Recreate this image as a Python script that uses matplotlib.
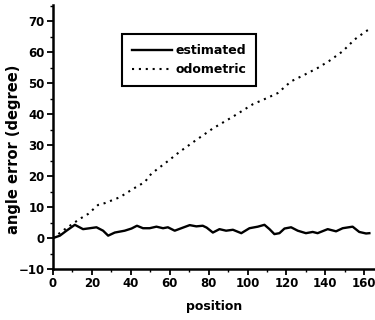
import matplotlib
matplotlib.use("Agg")
import matplotlib.pyplot as plt
from matplotlib.ticker import MultipleLocator

# estimated angle error
est_x = [0, 3.6, 7, 11.3, 15.5, 19, 22.4, 25.8, 28.4, 31.8, 36.9, 40.4, 43.2,
         46.3, 49.7, 53.2, 56.6, 59.1, 62.6, 66, 70.3, 73.7, 77, 79, 82.2, 85.6,
         89, 92.5, 96.8, 101, 105.3, 108.7, 111.3, 113.8, 116.4, 119, 122.4,
         125.8, 130, 133.5, 136, 141.2, 145.5, 148.9, 154, 157.4, 160.9, 162.6]
est_y = [0, 0.8, 2.4, 4.3, 2.9, 3.2, 3.5, 2.4, 0.8, 1.8, 2.4, 3.1, 4.0,
         3.2, 3.2, 3.7, 3.2, 3.5, 2.4, 3.2, 4.2, 3.8, 4.0, 3.4, 1.8, 2.9,
         2.4, 2.7, 1.6, 3.2, 3.7, 4.3, 2.9, 1.3, 1.6, 3.1, 3.5,
         2.4, 1.6, 2.0, 1.6, 2.9, 2.2, 3.2, 3.7, 2.0, 1.5, 1.6]

# odometric angle error
odo_x = [0, 6, 13.8, 18.1, 23.2, 26.7, 34.4, 41.2, 47.2, 50.6, 60, 65, 72.8,
         82.2, 92.5, 102.7, 109.6, 115.5, 122.4, 129.2, 136, 142, 148.9, 155,
         160.9, 163]
odo_y = [0, 2.8, 6.2, 7.8, 10.7, 11.3, 13.2, 15.9, 18.1, 20.8, 25.3, 27.8, 31.3,
         35.4, 39.2, 43.2, 45.1, 46.8, 50.6, 52.7, 54.9, 57.2, 60.3, 64.1,
         66.8, 67.5]

plt.rcParams["font.family"] = ["DejaVu Sans"]
plt.rcParams["font.weight"] = "bold"

fig = plt.figure(figsize=(3.75, 3.2), dpi=100)
ax = fig.add_axes([0.141, 0.159, 0.859, 0.825])

ax.plot(est_x, est_y, color="black", lw=1.7, label="estimated")
ax.plot(odo_x, odo_y, color="black", lw=1.5, linestyle=(0, (1, 2.3)),
        label="odometric")

ax.set_xlim(0, 165.5)
ax.set_ylim(-10, 75.2)
ax.xaxis.set_major_locator(MultipleLocator(20))
ax.xaxis.set_minor_locator(MultipleLocator(10))
ax.yaxis.set_major_locator(MultipleLocator(10))
ax.yaxis.set_minor_locator(MultipleLocator(5))

for side in ["top", "right"]:
    ax.spines[side].set_visible(False)
for side in ["left", "bottom"]:
    ax.spines[side].set_linewidth(1.8)

ax.tick_params(which="major", direction="out", length=4, width=1.3,
               labelsize=8.5, pad=2)
ax.tick_params(which="minor", direction="out", length=2, width=1.0)
for lab in ax.get_xticklabels() + ax.get_yticklabels():
    lab.set_fontweight("bold")

ax.set_xlabel("position", fontsize=9, fontweight="bold", labelpad=7)
ax.set_ylabel("angle error (degree)", fontsize=10.5, fontweight="bold")
ax.yaxis.set_label_coords(-0.1, 0.455)

leg = ax.legend(loc="upper left", bbox_to_anchor=(0.214, 0.89), fontsize=9,
                fancybox=False, handlelength=3.2, borderpad=0.8,
                labelspacing=0.5, handletextpad=0.3, borderaxespad=0)
leg.get_frame().set_edgecolor("black")
leg.get_frame().set_linewidth(1.5)
leg.get_frame().set_alpha(1)

fig.savefig("out.png", dpi=100)
